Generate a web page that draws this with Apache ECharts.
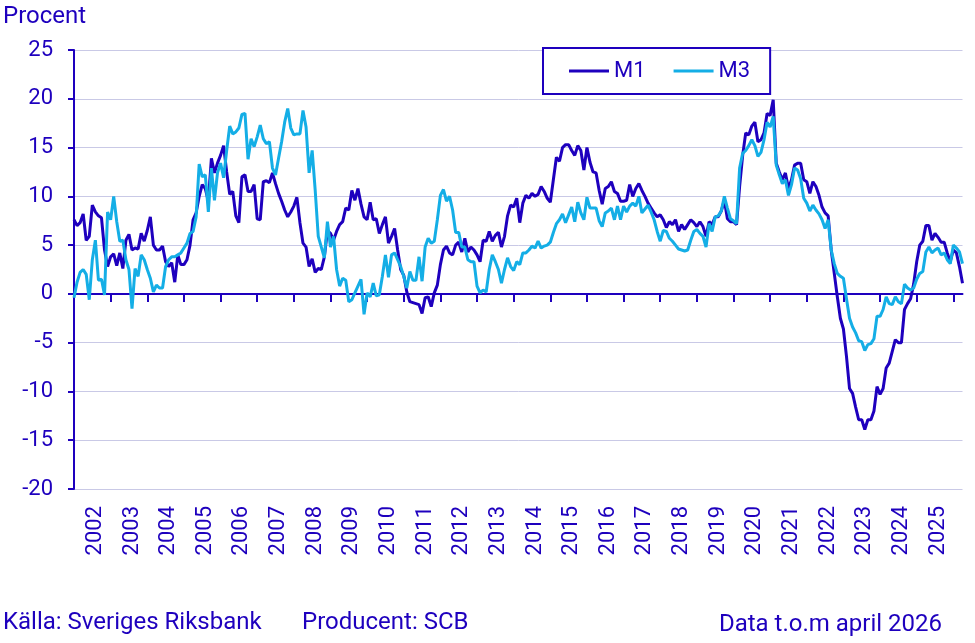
<!DOCTYPE html>
<html><head><meta charset="utf-8">
<script src="https://cdn.jsdelivr.net/npm/echarts@6/dist/echarts.min.js"></script>
<style>html,body{margin:0;padding:0;background:#fff}#c{width:975px;height:643px}</style>
</head><body><div id="c"></div>
<script>
const years = ['2002','2003','2004','2005','2006','2007','2008','2009','2010','2011','2012','2013','2014','2015','2016','2017','2018','2019','2020','2021','2022','2023','2024','2025','2026'];
const lastMonth = 4; // april 2026

const m1 = [
 7.6, 7.0, 7.3, 8.2, 5.5, 5.9, 9.1, 8.4, 8.0, 7.8, 4.5, 2.8,
 3.8, 4.1, 2.9, 4.2, 2.6, 5.5, 6.1, 4.5, 4.7, 4.6, 6.2, 5.4,
 6.5, 7.9, 5.0, 4.5, 4.5, 4.9, 3.3, 2.8, 3.2, 1.2, 4.0, 3.0,
 3.0, 3.5, 5.0, 7.6, 8.3, 10.0, 11.2, 10.8, 9.5, 13.9, 12.4, 13.4,
 14.2, 15.2, 12.5, 10.2, 10.5, 8.0, 7.3, 12.0, 12.2, 10.5, 10.5, 11.2,
 7.7, 7.6, 11.5, 11.6, 11.4, 12.4, 11.3, 10.3, 9.5, 8.6, 7.9, 8.4,
 9.0, 9.9, 7.3, 5.2, 4.8, 2.8, 3.6, 2.2, 2.6, 2.5, 3.8, 6.5,
 6.2, 5.5, 6.4, 7.1, 7.4, 8.8, 8.6, 10.6, 9.6, 10.8, 9.2, 7.9,
 7.6, 9.4, 7.6, 7.7, 6.2, 7.1, 7.9, 5.2, 5.9, 6.7, 4.5, 2.5,
 1.9, 0.2, -0.8, -0.9, -1.0, -1.1, -2.0, -0.4, -0.3, -1.3, 0.1, 0.9,
 3.0, 4.5, 4.9, 4.2, 4.0, 5.0, 5.3, 4.3, 5.7, 4.3, 4.8, 4.5,
 4.0, 3.3, 5.5, 5.4, 6.4, 5.4, 6.0, 6.3, 4.8, 5.9, 8.0, 9.1,
 8.9, 9.8, 7.3, 9.3, 10.1, 9.8, 10.3, 10.0, 10.2, 11.0, 10.5, 9.8,
 9.4, 11.7, 14.0, 13.6, 15.0, 15.3, 15.3, 14.7, 14.2, 15.2, 14.7, 12.7,
 15.0, 13.5, 12.5, 12.4, 10.6, 9.2, 10.8, 11.0, 11.5, 10.5, 10.3, 9.5,
 9.5, 9.6, 11.2, 10.0, 10.8, 11.3, 10.6, 10.0, 9.3, 8.8, 8.3, 7.9,
 8.1, 7.6, 6.8, 7.4, 7.1, 7.6, 6.4, 7.1, 6.6, 7.1, 7.6, 7.3,
 6.9, 7.4, 6.9, 5.9, 7.4, 7.1, 7.9, 7.9, 8.5, 9.6, 7.7, 7.4,
 7.4, 7.1, 11.0, 14.2, 16.5, 16.3, 17.2, 17.6, 15.6, 15.8, 16.5, 18.5,
 18.3, 19.9, 13.4, 12.5, 11.7, 12.4, 10.8, 11.7, 13.2, 13.4, 13.4, 11.7,
 11.5, 10.3, 11.5, 11.0, 10.1, 8.9, 8.3, 8.0, 4.5, 2.1, -0.3, -2.5,
 -3.6, -6.4, -9.7, -10.2, -11.6, -12.9, -12.9, -13.9, -12.9, -12.9, -12.0, -9.5,
 -10.3, -9.7, -7.6, -7.1, -5.9, -4.7, -5.0, -5.0, -1.6, -1.0, -0.5, 1.0,
 3.3, 5.0, 5.4, 7.0, 7.0, 5.5, 6.2, 5.8, 5.3, 5.3, 4.2, 3.3,
 4.5, 4.2, 2.8, 1.1
];

const m3 = [
 -0.4, 1.2, 2.2, 2.5, 2.0, -0.6, 3.5, 5.5, 1.4, 1.5, -0.1, 8.4,
 7.6, 10.0, 7.4, 5.4, 5.5, 3.5, 2.5, -1.5, 2.6, 1.8, 4.0, 3.5,
 2.5, 1.6, 0.2, 0.9, 0.6, 0.6, 2.8, 3.5, 3.8, 3.8, 4.0, 4.2,
 4.7, 5.2, 6.2, 6.4, 7.9, 13.3, 12.0, 12.2, 8.4, 12.9, 9.6, 12.4,
 13.4, 11.9, 14.7, 17.2, 16.4, 16.6, 17.0, 18.4, 18.5, 13.8, 15.9, 15.1,
 16.1, 17.3, 15.9, 15.4, 15.6, 12.9, 12.2, 13.9, 15.6, 17.6, 19.0, 17.0,
 16.3, 16.4, 16.4, 18.8, 17.1, 12.4, 14.7, 10.6, 5.9, 4.8, 3.7, 7.4,
 4.8, 5.9, 2.5, 0.8, 1.6, 1.4, -0.8, -0.6, 0.1, 0.8, 1.5, -2.1,
 0.1, -0.3, 1.1, -0.2, -0.1, 1.8, 4.0, 1.7, 4.0, 4.2, 3.5, 2.8,
 1.8, 0.6, 2.3, 1.4, 1.4, 3.8, 1.3, 4.8, 5.7, 5.2, 5.4, 7.6,
 10.1, 10.7, 9.5, 10.0, 8.6, 6.3, 6.3, 4.8, 4.8, 3.5, 3.3, 3.3,
 0.8, 0.1, 0.4, 0.2, 2.5, 4.0, 3.3, 2.5, 1.1, 2.5, 3.7, 2.8,
 2.4, 3.3, 3.0, 4.2, 4.2, 4.5, 4.9, 4.7, 5.4, 4.7, 4.9, 5.0,
 5.3, 6.3, 7.2, 7.6, 8.2, 7.3, 8.1, 8.9, 7.4, 9.4, 8.3, 7.6,
 9.9, 8.8, 8.8, 8.8, 7.5, 6.9, 8.3, 8.5, 8.8, 7.6, 9.0, 7.6,
 9.0, 8.4, 9.0, 9.3, 9.0, 10.0, 8.3, 8.7, 9.1, 8.4, 7.6, 6.4,
 5.4, 6.5, 6.4, 5.7, 5.4, 5.0, 4.6, 4.5, 4.4, 4.5, 5.5, 6.4,
 6.6, 6.2, 5.9, 4.8, 7.2, 6.4, 7.9, 8.0, 8.5, 10.0, 8.8, 7.7,
 7.5, 7.2, 12.9, 14.4, 14.7, 15.2, 15.8, 15.2, 14.1, 14.5, 15.8, 17.6,
 17.1, 18.2, 13.2, 12.2, 11.3, 11.7, 10.1, 11.2, 12.9, 12.7, 11.8, 9.8,
 9.3, 8.5, 9.1, 8.6, 8.2, 7.6, 6.7, 7.6, 4.5, 3.1, 2.1, 1.8,
 1.6, -0.5, -2.5, -3.4, -4.0, -4.8, -4.9, -5.8, -5.2, -5.1, -4.6, -2.3,
 -2.3, -1.6, -0.3, -1.0, -1.1, -0.3, -0.8, -1.0, 1.0, 0.6, 0.4, 0.6,
 1.5, 2.1, 2.3, 4.3, 4.8, 4.2, 4.5, 4.7, 4.0, 4.2, 3.5, 3.1,
 5.0, 4.7, 4.3, 3.1
];

const months = [];
years.forEach(function (y, k) {
  const n = (k === years.length - 1) ? lastMonth : 12;
  for (let m = 1; m <= n; m++) months.push(y + '-' + (m < 10 ? '0' : '') + m);
});

const DARK = '#1E00BE';
const LIGHT = '#14AEE6';
const GRID = '#C9C9E6';
const FONT = 'Roboto';

const chart = echarts.init(document.getElementById('c'), null, {renderer: 'canvas'});
chart.setOption({
  animation: false,
  textStyle: {fontFamily: FONT},
  grid: {left: 74, right: 12.5, top: 50, bottom: 154, containLabel: false},
  legend: {
    left: 543, top: 48, orient: 'horizontal',
    padding: [12, 20, 12, 26], itemGap: 28, itemWidth: 40, itemHeight: 3,
    borderColor: DARK, borderWidth: 2, backgroundColor: '#fff',
    selectedMode: false,
    textStyle: {color: DARK, fontSize: 22, fontFamily: FONT},
    data: [{name: 'M1', icon: 'rect'}, {name: 'M3', icon: 'rect'}]
  },
  xAxis: [
    {
      type: 'category', data: months, boundaryGap: false, position: 'top',
      axisLine: {show: true, onZero: true, lineStyle: {color: DARK, width: 2}},
      axisTick: {show: true, inside: true, length: 8, interval: function (i) { return i % 12 === 0; }, lineStyle: {color: DARK, width: 2}},
      axisLabel: {show: false},
      splitLine: {show: false}
    },
    {
      type: 'category', data: months, boundaryGap: false, position: 'bottom',
      axisLine: {show: false, onZero: false},
      axisTick: {show: false},
      axisLabel: {
        show: true, interval: function (i) { return i % 12 === 7; }, rotate: 90, margin: 17,
        color: DARK, fontSize: 22, fontFamily: FONT,
        formatter: function (v) { return v.slice(0, 4); }
      },
      splitLine: {show: false}
    }
  ],
  yAxis: {
    type: 'value', min: -20, max: 25, interval: 5,
    axisLine: {show: true, onZero: false, lineStyle: {color: DARK, width: 2}},
    axisTick: {show: true, length: 6, lineStyle: {color: DARK, width: 2}},
    axisLabel: {color: DARK, fontSize: 22, margin: 21, fontFamily: FONT},
    splitLine: {show: true, lineStyle: {color: GRID, width: 1}}
  },
  series: [
    {name: 'M1', type: 'line', xAxisIndex: 0, data: m1, symbol: 'none', showSymbol: false,
     lineStyle: {color: DARK, width: 3}, itemStyle: {color: DARK}},
    {name: 'M3', type: 'line', xAxisIndex: 0, data: m3, symbol: 'none', showSymbol: false,
     lineStyle: {color: LIGHT, width: 3}, itemStyle: {color: LIGHT}}
  ],
  graphic: [
    {type: 'text', x: 3, y: 17.3, style: {text: 'Procent', fill: DARK, font: '24px ' + FONT, align: 'left', verticalAlign: 'middle'}},
    {type: 'text', x: 3, y: 622.6, style: {text: 'Källa: Sveriges Riksbank', fill: DARK, font: '24px ' + FONT, align: 'left', verticalAlign: 'middle'}},
    {type: 'text', x: 302, y: 622.6, style: {text: 'Producent: SCB', fill: DARK, font: '24px ' + FONT, align: 'left', verticalAlign: 'middle'}},
    {type: 'text', x: 942, y: 625.3, style: {text: 'Data t.o.m april 2026', fill: DARK, font: '24px ' + FONT, align: 'right', verticalAlign: 'middle'}}
  ]
});
</script>
</body></html>
